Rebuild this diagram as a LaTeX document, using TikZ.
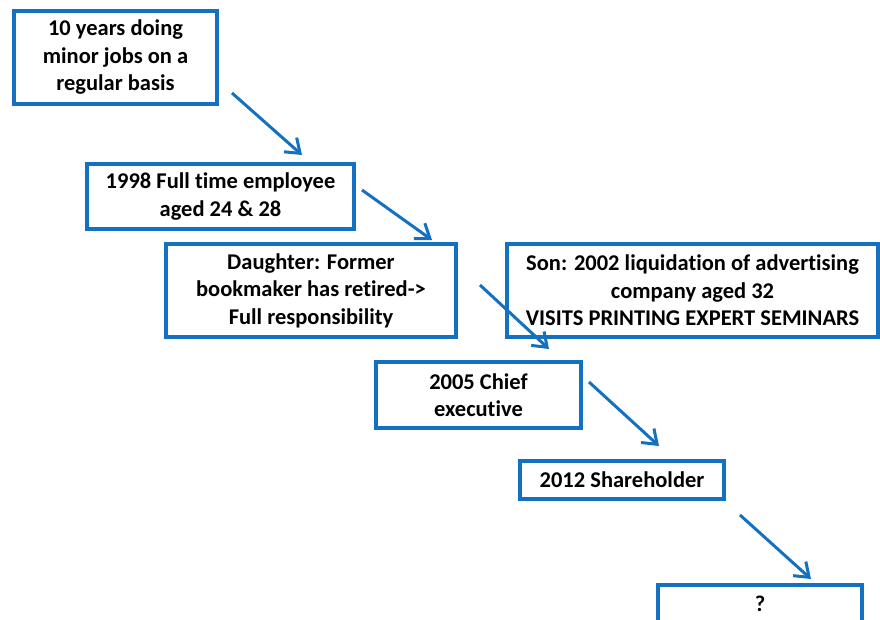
\documentclass[tikz,border=0pt]{standalone}
\usepackage{fontspec}
\setmainfont{Carlito}[Ligatures=NoCommon]
\usepackage{xcolor}
\usepackage{tikz}
\usetikzlibrary{positioning,arrows.meta}
\definecolor{lineblue}{RGB}{20,112,192}

\begin{document}
\begin{tikzpicture}[x=1pt, y=-1pt,
  stagenode/.style={draw=lineblue, line width=3.4pt, fill=white, inner sep=0pt, align=center,
    font=\fontsize{22.5}{27.5}\selectfont\bfseries},
  stagearrow/.style={draw=lineblue, line width=3pt, -{Straight Barb[length=13pt,width=19pt]}}]
\useasboundingbox (0,0) rectangle (880,619);
\clip (0,0) rectangle (880,619);

\node[stagenode, minimum width=203, minimum height=93] at (115.5, 57.5) (jobs) {10 years doing\\minor jobs on a\\regular basis};
\node[stagenode, minimum width=267, minimum height=65] at (220.5, 196.5) (fulltime) {1998 Full time employee\\aged 24 \& 28};
\node[stagenode, minimum width=290, minimum height=93] at (311.0, 290.5) (daughter) {Daughter: Former\\bookmaker has retired->\\Full responsibility};
\node[stagenode, minimum width=371, minimum height=93] at (692.5, 290.5) (son) {Son: 2002 liquidation of advertising\\company aged 32\\VISITS PRINTING EXPERT SEMINARS};
\node[stagenode, minimum width=205, minimum height=66] at (478.5, 395.0) (chief) {2005 Chief\\executive};
\node[stagenode, minimum width=204, minimum height=38] at (622.0, 480.0) (holder) {2012 Shareholder};
\node[stagenode, minimum width=204, minimum height=38] at (760.0, 604.0) (next) {?};

\coordinate (a1s) at (232, 93);  \coordinate (a1e) at (302, 155);
\coordinate (a2s) at (362, 190); \coordinate (a2e) at (432, 240);
\coordinate (a3s) at (480, 285); \coordinate (a3e) at (549, 349);
\coordinate (a4s) at (589, 382); \coordinate (a4e) at (659, 446);
\coordinate (a5s) at (740, 515); \coordinate (a5e) at (811, 579);

\draw[stagearrow] (a1s) -- (a1e);
\draw[stagearrow] (a2s) -- (a2e);
\draw[stagearrow] (a3s) -- (a3e);
\draw[stagearrow] (a4s) -- (a4e);
\draw[stagearrow] (a5s) -- (a5e);

\end{tikzpicture}
\end{document}
